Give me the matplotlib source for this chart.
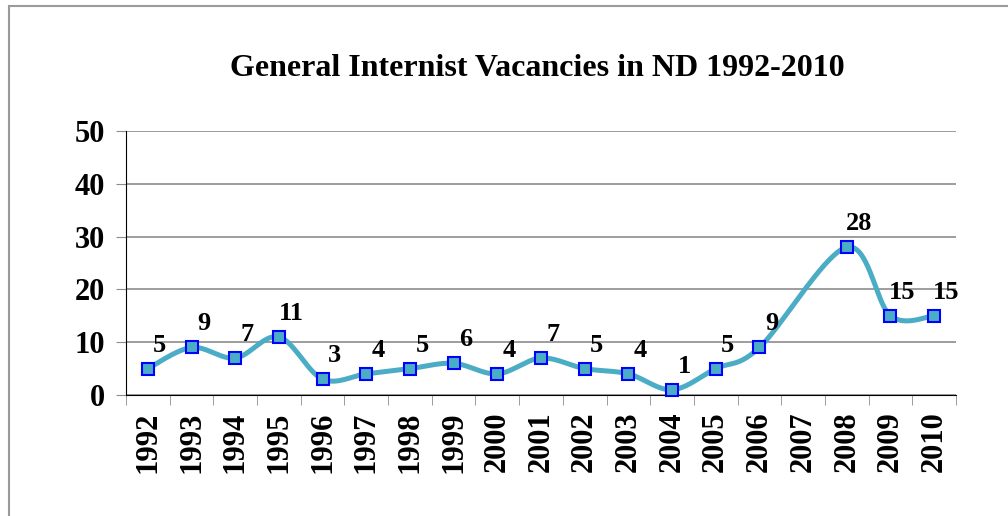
import matplotlib
matplotlib.use('Agg')
import matplotlib.pyplot as plt
from matplotlib.patches import Rectangle
import numpy as np

# data (2007 has no value)
years = ['1992', '1993', '1994', '1995', '1996', '1997', '1998', '1999', '2000', '2001',
         '2002', '2003', '2004', '2005', '2006', '2007', '2008', '2009', '2010']
vacancies = [5, 9, 7, 11, 3, 4, 5, 6, 4, 7, 5, 4, 1, 5, 9, None, 28, 15, 15]

plt.rcParams['font.family'] = ['Liberation Serif', 'DejaVu Serif']
plt.rcParams['font.weight'] = 'bold'

line_col = '#4BACC6'
grid_col = '#8c8c8c'


def smooth(xs, ys, n=40):
    # Excel-like smoothed line: Catmull-Rom segments as cubic Beziers
    xs = np.asarray(xs, float)
    ys = np.asarray(ys, float)
    outx, outy = [], []
    for i in range(len(xs) - 1):
        i0 = max(i - 1, 0)
        i3 = min(i + 2, len(xs) - 1)
        p0 = np.array([xs[i], ys[i]])
        p3 = np.array([xs[i + 1], ys[i + 1]])
        c1 = p0 + (p3 - np.array([xs[i0], ys[i0]])) / 6.0
        c2 = p3 - (np.array([xs[i3], ys[i3]]) - p0) / 6.0
        t = np.linspace(0, 1, n)[:, None]
        pts = (1 - t) ** 3 * p0 + 3 * (1 - t) ** 2 * t * c1 + 3 * (1 - t) * t ** 2 * c2 + t ** 3 * p3
        outx.extend(pts[:, 0])
        outy.extend(pts[:, 1])
    return outx, outy


fig = plt.figure(figsize=(10.08, 5.16), dpi=100)
# chart frame (cropped on the right and bottom)
fig.patches.append(Rectangle((8.5 / 1008, -0.1), 1.2, 1 - 5.5 / 516 + 0.1, transform=fig.transFigure,
                             fill=False, edgecolor='#9a9a9a', linewidth=1.5))

ax = fig.add_axes([126 / 1008, 1 - 395 / 516, (956 - 126) / 1008, (395 - 131) / 516])

xi = [i for i, v in enumerate(vacancies) if v is not None]
yv = [v for v in vacancies if v is not None]

sx, sy = smooth(xi, yv)
ax.plot(sx, sy, color=line_col, linewidth=3.6, solid_capstyle='round', zorder=3, clip_on=False)
ax.plot(xi, yv, linestyle='none', marker='s', markersize=9, markerfacecolor=line_col,
        markeredgecolor='#0000FF', markeredgewidth=1.5, zorder=4, clip_on=False)

for x, v in zip(xi, yv):
    ax.annotate(str(v), (x, v), xytext=(12, 12), textcoords='offset pixels',
                ha='center', va='bottom', fontsize=19, fontweight='bold')

ax.set_xlim(-0.5, len(years) - 0.5)
ax.set_ylim(0, 50)
ax.set_yticks(range(0, 51, 10))
ax.yaxis.grid(True, color=grid_col, linewidth=1.2)
ax.set_axisbelow(True)
ax.tick_params(axis='y', length=7, color=grid_col, labelsize=22, pad=8)

ax.set_xticks(range(len(years)))
ax.set_xticklabels(years, rotation=90, fontsize=22)
ax.tick_params(axis='x', which='major', length=0, pad=12)
ax.set_xticks(np.arange(-0.5, len(years), 1), minor=True)
ax.tick_params(axis='x', which='minor', length=7, color=grid_col)

for s in ['top', 'right']:
    ax.spines[s].set_visible(False)
ax.spines['left'].set_color('black')
ax.spines['bottom'].set_color('black')

fig.text(537 / 1008, 1 - 68 / 516, 'General Internist Vacancies in ND 1992-2010',
         ha='center', va='center', fontsize=23, fontweight='bold')

fig.savefig('out.png', dpi=100, facecolor='white')
